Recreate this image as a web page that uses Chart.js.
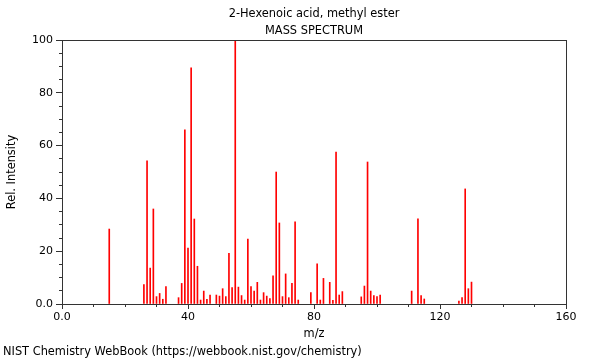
<!DOCTYPE html>
<html>
<head>
<meta charset="utf-8">
<script src="https://cdn.jsdelivr.net/npm/chart.js@4"></script>
<style>
  html, body { margin: 0; padding: 0; background: #fff; }
  #wrap { width: 600px; height: 360px; }
</style>
</head>
<body>
<div id="wrap"><canvas id="spectrum" width="600" height="360"></canvas></div>
<script>
// Peak data (m/z and relative intensity)
const mzValues = [15, 26, 27, 28, 29, 30, 31, 32, 33, 37, 38, 39, 40, 41, 42, 43, 44, 45, 46, 47,
    49, 50, 51, 52, 53, 54, 55, 56, 57, 58, 59, 60, 61, 62, 63, 64, 65, 66, 67, 68,
    69, 70, 71, 72, 73, 74, 75, 79, 81, 82, 83, 85, 86, 87, 88, 89, 95, 96, 97, 98,
    99, 100, 101, 111, 113, 114, 115, 126, 127, 128, 129, 130];
const intensities = [28.4, 7.4, 54.2, 13.6, 36.0, 2.8, 4.0, 1.8, 6.6, 2.4, 7.8, 66.0, 21.2, 89.5, 32.2, 14.3, 1.5, 4.9, 1.8, 3.4,
    3.4, 3.0, 5.8, 2.8, 19.2, 6.2, 100, 6.4, 3.2, 1.5, 24.6, 6.6, 4.9, 8.2, 1.5, 4.3, 3.0, 2.1, 10.7, 50.0,
    30.7, 2.8, 11.4, 2.4, 7.8, 31.1, 1.5, 4.3, 15.2, 1.5, 9.7, 8.2, 1.4, 57.6, 3.4, 4.7, 2.7, 6.8, 53.8, 4.9,
    3.2, 2.8, 3.4, 4.9, 32.3, 3.2, 1.9, 1.1, 2.4, 43.6, 5.8, 8.3];

const titleLines = ['2-Hexenoic acid, methyl ester', 'MASS SPECTRUM'];
const footerText = 'NIST Chemistry WebBook (https://webbook.nist.gov/chemistry)';
const xMajorStep = 40, xMinorStep = 10;
const yMajorStep = 20, yMinorStep = 5;

const FONT = "'DejaVu Sans', sans-serif";
const AXIS_COLOR = '#333';

const fmt = v => v === 0 ? '0.0' : String(v);

// draws the box round the plot area
const frame = {
    id: 'frame',
    afterDatasetsDraw(chart) {
        const a = chart.chartArea;
        const ctx = chart.ctx;
        ctx.save();
        ctx.strokeStyle = AXIS_COLOR;
        ctx.lineWidth = 1;
        ctx.strokeRect(Math.round(a.left) + 0.5, Math.round(a.top) + 0.5,
            Math.round(a.right - a.left), Math.round(a.bottom - a.top));
        ctx.restore();
    }
};

const points = mzValues.map((mz, i) => ({ x: mz, y: intensities[i] }));

const tickFont = { family: FONT, size: 11 };

new Chart(document.getElementById('spectrum'), {
    type: 'bar',
    data: {
        datasets: [{
            data: points,
            backgroundColor: '#ff0000',
            barThickness: 1,
            borderWidth: 0
        }]
    },
    options: {
        responsive: false,
        animation: false,
        events: [],
        layout: { padding: { left: 3, right: 34, top: 0, bottom: 0 } },
        plugins: {
            legend: { display: false },
            tooltip: { enabled: false },
            title: {
                display: true,
                text: titleLines,
                fullSize: false,
                color: '#000',
                font: { family: FONT, size: 11.4, weight: 'normal', lineHeight: 1.45 },
                padding: { top: 6, bottom: 1 }
            },
            subtitle: {
                display: true,
                text: footerText,
                position: 'bottom',
                align: 'start',
                color: '#000',
                font: { family: FONT, size: 11.4, weight: 'normal', lineHeight: '16px' },
                padding: 0
            }
        },
        scales: {
            x: {
                type: 'linear',
                min: 0,
                max: 160,
                offset: false,
                afterFit(scale) { scale.height = 40; },
                ticks: {
                    stepSize: xMajorStep,
                    autoSkip: false,
                    maxRotation: 0,
                    padding: 2,
                    color: '#000',
                    font: tickFont,
                    callback: fmt
                },
                grid: {
                    offset: false,
                    drawOnChartArea: false,
                    drawTicks: true,
                    tickLength: 5,
                    color: AXIS_COLOR
                },
                border: { display: true, color: AXIS_COLOR },
                title: {
                    display: true,
                    text: 'm/z',
                    color: '#000',
                    font: { family: FONT, size: 11.4 },
                    padding: { top: 3, bottom: 3 }
                }
            },
            // minor ticks along the bottom axis
            xMinor: {
                type: 'linear',
                axis: 'x',
                min: 0,
                max: 160,
                offset: false,
                position: { y: 0 },
                ticks: { stepSize: xMinorStep, autoSkip: false, display: false },
                grid: { offset: false, drawOnChartArea: false, drawTicks: true, tickLength: 3, color: AXIS_COLOR },
                border: { display: false }
            },
            y: {
                min: 0,
                max: 100,
                afterFit(scale) { scale.width = 59; },
                ticks: {
                    stepSize: yMajorStep,
                    autoSkip: false,
                    padding: 3,
                    color: '#000',
                    font: tickFont,
                    callback: fmt
                },
                grid: {
                    drawOnChartArea: false,
                    drawTicks: true,
                    tickLength: 6,
                    color: AXIS_COLOR
                },
                border: { display: true, color: AXIS_COLOR },
                title: {
                    display: true,
                    text: 'Rel. Intensity',
                    color: '#000',
                    font: { family: FONT, size: 11.4 },
                    padding: { top: 2, bottom: 1 }
                }
            },
            // minor ticks along the left axis
            yMinor: {
                axis: 'y',
                min: 0,
                max: 100,
                position: { x: 0 },
                ticks: { stepSize: yMinorStep, autoSkip: false, display: false },
                grid: { drawOnChartArea: false, drawTicks: true, tickLength: 3, color: AXIS_COLOR },
                border: { display: false }
            }
        }
    },
    plugins: [frame]
});
</script>
</body>
</html>
